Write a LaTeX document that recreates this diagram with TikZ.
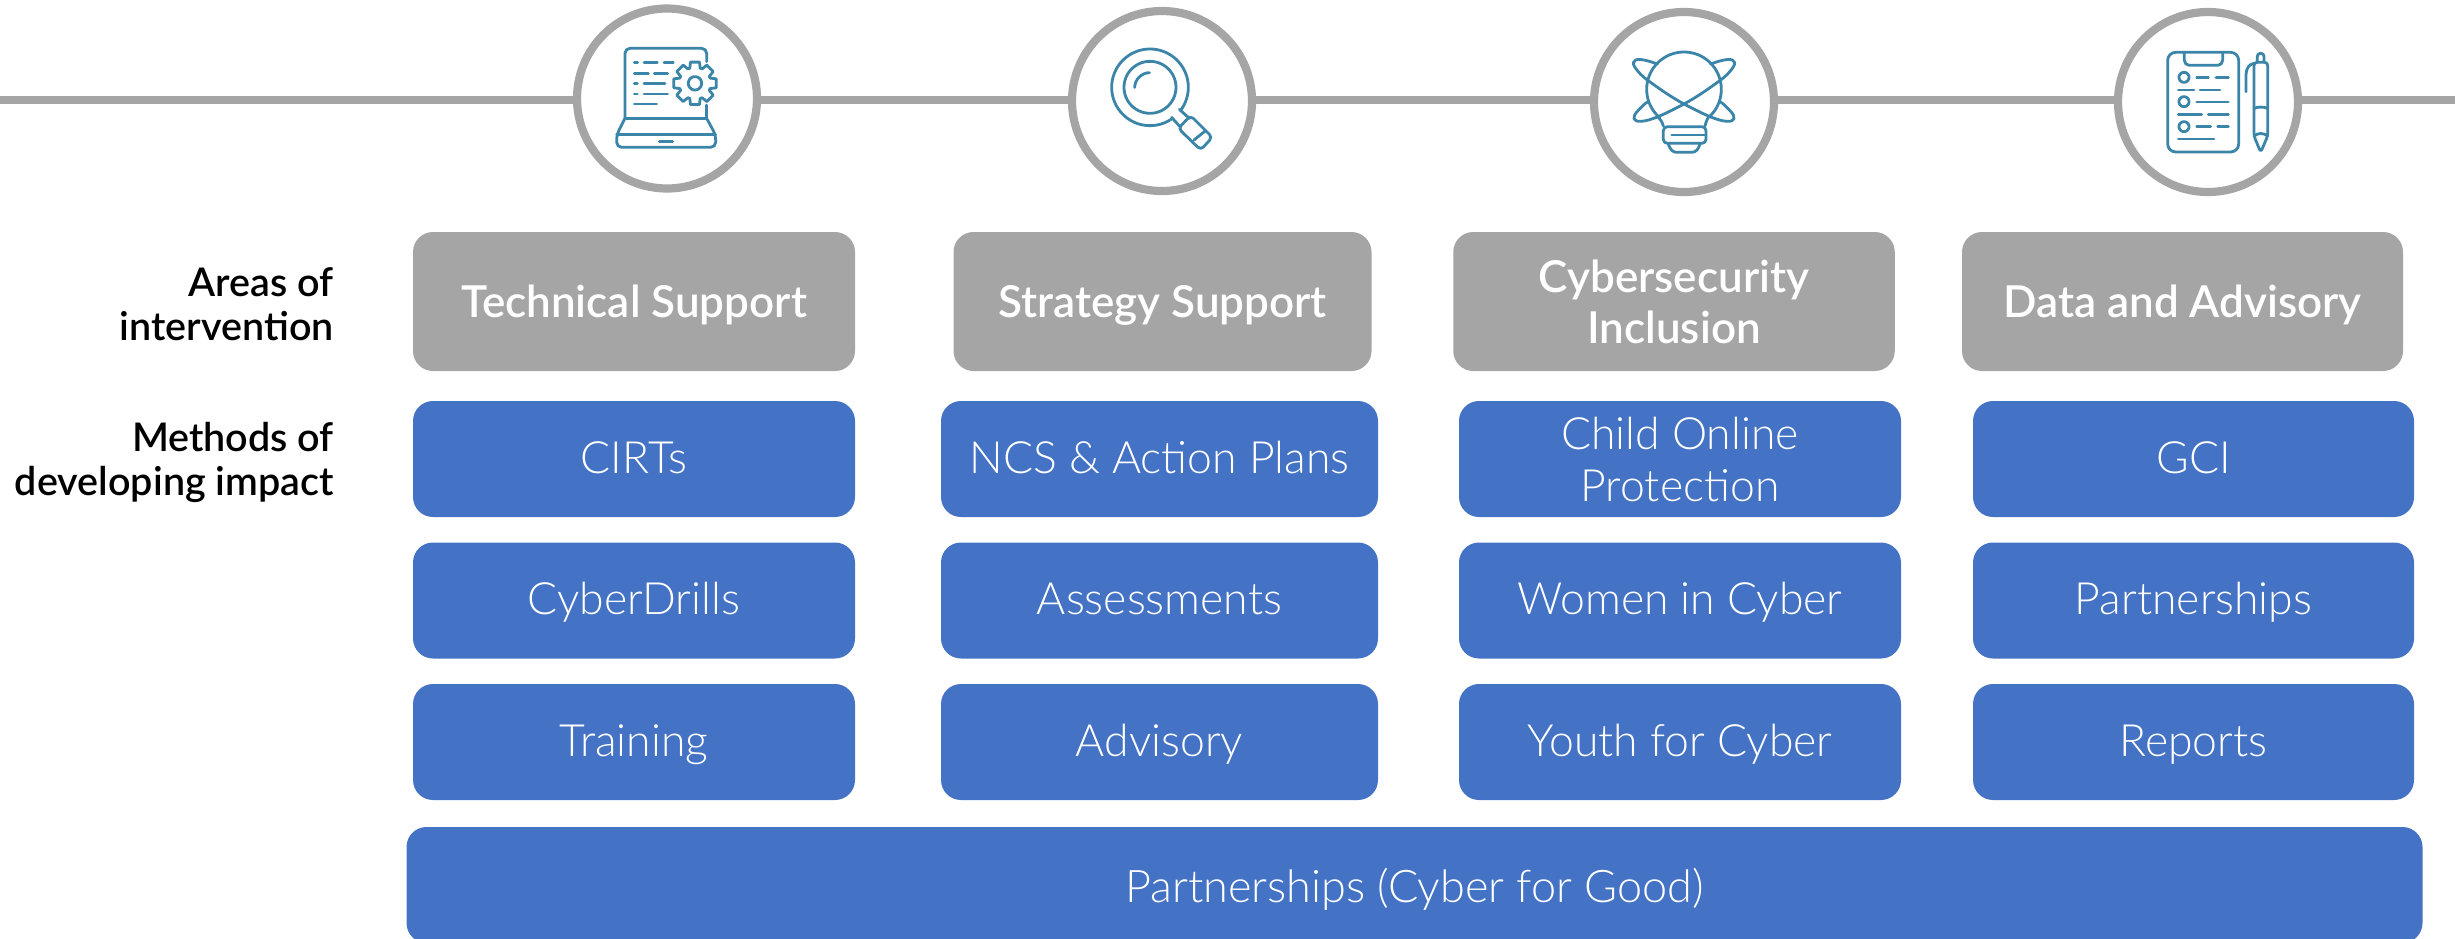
\documentclass[tikz,border=0pt]{standalone}
\usepackage{fontspec}
\setmainfont{Lato}
\newfontfamily\lightf{Lato Light}
\newfontfamily\medf{Lato Medium}
\newfontfamily\semif{Lato Semibold}
\definecolor{railgray}{HTML}{A5A5A5}
\definecolor{boxblue}{HTML}{4472C4}
\definecolor{iconblue}{HTML}{3A85A8}
\tikzset{
  box/.style={rounded corners=20pt,inner sep=0pt,text=white,align=center,minimum height=116pt},
  areabox/.style={box,fill=railgray,minimum height=139pt,font=\semif\fontsize{44}{51}\selectfont,text height=42pt,text depth=10pt},
  methodbox/.style={box,fill=boxblue,font=\lightf\fontsize{44.5}{52}\selectfont,text height=38pt,text depth=10pt},
  twoline/.style={text height=,text depth=},
  sidelabel/.style={anchor=east,align=right,inner sep=0pt,font=\semif\fontsize{39.5}{44}\selectfont},
  ring/.style={circle,draw=railgray,line width=8.2pt,fill=white,minimum size=180pt,inner sep=0pt},
  rail/.style={draw=railgray,line width=8.2pt},
  icon/.style={draw=iconblue,line width=2.8pt,line cap=round,line join=round},
  zoomed/.style={x=0.3333pt,y=-0.3333pt},
}
\begin{document}
\begin{tikzpicture}[x=1pt,y=-1pt]
\useasboundingbox (0,0) rectangle (2455,938);
\coordinate (railL) at (0,100.3);
\coordinate (railR) at (2455,100.3);
\node[ring] (c1) at (667,98.5) {};
\node[ring] (c2) at (1162,101) {};
\node[ring] (c3) at (1684,102) {};
\node[ring] (c4) at (2208,102) {};
\draw[rail] (railL) -- (railL -| c1.west);
\draw[rail] (railL -| c1.east) -- (railL -| c2.west);
\draw[rail] (railL -| c2.east) -- (railL -| c3.west);
\draw[rail] (railL -| c3.east) -- (railL -| c4.west);
\draw[rail] (railL -| c4.east) -- (railR);

% laptop icon
\begin{scope}[shift={(540,0)},zoomed]
\draw[icon,rounded corners=5pt] (255,355) -- (255,145) -- (500,145) -- (500,185);
\draw[icon] (500,315) -- (500,355) -- (255,355);
\draw[icon,rounded corners=5pt] (255,355) -- (230,405) -- (230,442) -- (527,442) -- (527,405) -- (500,355);
\draw[icon] (230,403) -- (527,403);
\draw[icon] (358,424) -- (398,424);
\draw[icon] (283,188) -- (293,188) (312,188) -- (352,188) (372,188) -- (400,188);
\draw[icon] (283,220) -- (325,220) (343,220) -- (383,220);
\draw[icon] (283,250) -- (292,250) (312,250) -- (375,250);
\draw[icon] (283,282) -- (292,282) (312,282) -- (383,282);
\draw[icon] (283,312) -- (350,312);
\begin{scope}[shift={(465,250)}]
\draw[icon] (-12:65) \foreach \a in {0,45,...,315}{ -- (\a-12:65) -- (\a+12:65) -- (\a+19:48) -- (\a+26:48)} -- cycle;
\draw[icon] plot[domain=0:360,samples=40] ({20*cos(\x)},{20*sin(\x)});
\end{scope}
\end{scope}

% magnifier icon
\begin{scope}[shift={(1040,0)},zoomed]
\draw[icon] plot[domain=54:397,samples=80] ({330+115*cos(\x)},{262+115*sin(\x)});
\draw[icon] plot[domain=0:360,samples=60] ({330+78*cos(\x)},{262+78*sin(\x)});
\draw[icon] plot[domain=92:178,samples=20] ({330+46*cos(\x)},{264-46*sin(\x)});
\draw[icon] (395,352) -- (418,378);
\draw[icon] (418,328) -- (448,355);
\draw[icon,rounded corners=4pt] (452,347) -- (517,412) -- (482,450) -- (415,385) -- cycle;
\draw[icon] (462,420) -- (497,392);
\end{scope}

% bulb icon
\begin{scope}[shift={(1570,0)},zoomed]
\draw[icon] (280,378) .. controls (276,365) and (272,358) .. (262,350)
  plot[domain=130:410,samples=60] ({342+112*cos(\x)},{268+112*sin(\x)})
  .. controls (412,358) and (408,365) .. (405,378);
\draw[icon,rounded corners=4pt] (280,380) -- (280,430) -- (408,430) -- (408,380) -- cycle;
\draw[icon] (305,405) -- (408,405);
\draw[icon] (295,432) .. controls (300,448) and (308,457) .. (320,457) -- (365,457) .. controls (378,457) and (385,448) .. (390,432);
\draw[icon] (262,192) .. controls (225,178) and (192,172) .. (190,188)
  .. controls (188,200) and (215,228) .. (232,240)
  .. controls (270,268) and (305,292) .. (342,312)
  .. controls (395,340) and (440,362) .. (470,364)
  .. controls (495,366) and (500,352) .. (480,332)
  .. controls (470,322) and (462,312) .. (450,305);
\draw[icon] (422,192) .. controls (459,178) and (492,172) .. (494,188)
  .. controls (496,200) and (469,228) .. (452,240)
  .. controls (414,268) and (379,292) .. (342,312)
  .. controls (289,340) and (244,362) .. (214,364)
  .. controls (189,366) and (184,352) .. (204,332)
  .. controls (214,322) and (222,312) .. (234,305);
\end{scope}

% clipboard and pen icon
\begin{scope}[shift={(2090,0)},zoomed]
\draw[icon,rounded corners=8pt] (233,157) rectangle (446,456);
\draw[icon,rounded corners=5pt] (283,158) -- (283,196) -- (398,196) -- (398,158);
\foreach \y in {232,305,380}{
  \draw[icon] plot[domain=0:360,samples=30] ({282+15*cos(\x)},{\y+15*sin(\x)});
}
\draw[icon] (320,232) -- (355,232) (378,232) -- (415,232);
\draw[icon] (265,270) -- (312,270) (330,270) -- (390,270);
\draw[icon] (320,306) -- (415,306);
\draw[icon] (265,344) -- (335,344) (355,344) -- (415,344);
\draw[icon] (320,380) -- (362,380) (383,380) -- (415,380);
\draw[icon] (265,417) -- (372,417);
\draw[icon,rounded corners=3pt] (492,187) -- (533,187) -- (533,408) -- (512,457) -- (492,408) -- cycle;
\draw[icon,rounded corners=3pt] (502,187) -- (502,160) -- (522,160) -- (522,187);
\draw[icon] (468,275) -- (468,225) .. controls (468,205) and (478,192) .. (492,190);
\draw[icon] (492,325) .. controls (505,320) and (520,320) .. (533,325);
\draw[icon] (492,408) .. controls (505,398) and (520,398) .. (533,408);
\end{scope}

% side labels
\node[sidelabel] (areas) at (334,304) {Areas of\\intervention};
\node[sidelabel] (methods) at (334,462) {Methods of\\developing impact};

% area row
\node[areabox,minimum width=442pt] (a1) at (634,301.5) {Technical Support};
\node[areabox,minimum width=418pt] (a2) at (1162.5,301.5) {Strategy Support};
\node[areabox,twoline,minimum width=441.5pt] (a3) at (1674,301.5) {Cybersecurity\\Inclusion};
\node[areabox,minimum width=441pt] (a4) at (2182.5,301.5) {Data and Advisory};

% method rows
\node[methodbox,minimum width=442pt] (m11) at (634,459) {CIRTs};
\node[methodbox,minimum width=442pt] (m12) at (634,600.5) {CyberDrills};
\node[methodbox,minimum width=442pt] (m13) at (634,742) {Training};
\node[methodbox,minimum width=437pt] (m21) at (1159.5,459) {NCS \& Action Plans};
\node[methodbox,minimum width=437pt] (m22) at (1159.5,600.5) {Assessments};
\node[methodbox,minimum width=437pt] (m23) at (1159.5,742) {Advisory};
\node[methodbox,twoline,minimum width=442pt] (m31) at (1680,459) {Child Online\\Protection};
\node[methodbox,minimum width=442pt] (m32) at (1680,600.5) {Women in Cyber};
\node[methodbox,minimum width=442pt] (m33) at (1680,742) {Youth for Cyber};
\node[methodbox,minimum width=441pt] (m41) at (2193.5,459) {GCI};
\node[methodbox,minimum width=441pt] (m42) at (2193.5,600.5) {Partnerships};
\node[methodbox,minimum width=441pt] (m43) at (2193.5,742) {Reports};
\node[methodbox,minimum width=2016pt,minimum height=116pt,text height=44pt,font=\lightf\fontsize{45}{52}\selectfont] (base) at (1414.5,885) {Partnerships (Cyber for Good)};
\end{tikzpicture}
\end{document}
